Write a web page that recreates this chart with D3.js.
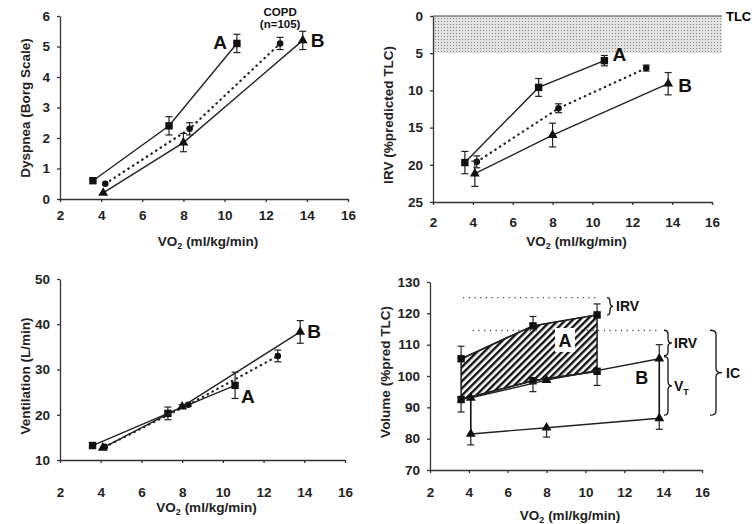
<!DOCTYPE html>
<html>
<head>
<meta charset="utf-8">
<script src="https://cdn.jsdelivr.net/npm/d3@7"></script>
<style>
  body { margin: 0; background: #fff; }
  svg { font-family: "Liberation Sans", Arial, sans-serif; }
  .tick text { font-weight: bold; font-size: 13.5px; fill: #222; }
  .tick line, .domain { stroke: #333; stroke-width: 1.3; }
</style>
</head>
<body>
<script>
// x values (VO2, ml/kg/min) for each series
const vo2A = [3.6, 7.3, 10.6];
const vo2Copd = [4.2, 8.3, 12.7];
const vo2B = [4.1, 8.0, 13.8];
const xTicks = [2, 4, 6, 8, 10, 12, 14, 16];

// dyspnea (Borg)
const dysA = [0.6, 2.4, 5.1], dysAErr = [0, 0.3, 0.3];
const dysCopd = [0.5, 2.3, 5.1], dysCopdErr = [0, 0.2, 0.2];
const dysB = [0.2, 1.85, 5.2], dysBErr = [0, 0.3, 0.3];
const dysTicks = [0, 1, 2, 3, 4, 5, 6];

// IRV (% predicted TLC)
const irvA = [19.7, 9.6, 6.0], irvAErr = [1.5, 1.2, 0.7];
const irvCopd = [19.6, 12.4, 7.0], irvCopdErr = [0.8, 0.6, 0.4];
const irvB = [21.2, 16.0, 9.1], irvBErr = [1.7, 1.6, 1.5];
const irvTicks = [0, 5, 10, 15, 20, 25];
const tlcBand = [0, 5];

// ventilation (L/min)
const veA = [13.2, 20.3, 26.5], veAErr = [0, 1.4, 2.9];
const veCopd = [12.9, 22.2, 33.0], veCopdErr = [0, 0.3, 1.3];
const veB = [12.7, 21.8, 38.3], veBErr = [0, 0.4, 2.5];
const veTicks = [10, 20, 30, 40, 50];

// volumes (% pred TLC)
const eilvA = [105.5, 116, 119.5], eilvAErr = [4, 3, 3.5];
const eelvA = [92.5, 98.5, 101.5], eelvAErr = [4, 3.5, 4.5];
const eilvB = [93, 98.7, 105.5], eilvBErr = [0, 0, 4.5];
const eelvB = [81.5, 83.5, 86.5], eelvBErr = [3.5, 3, 3.5];
const volTicks = [70, 80, 90, 100, 110, 120, 130];
const refLevels = [125, 114.5];
const refFrom = [3.7, 4.2];
const refTo = [10.6, 13.7];

const svg = d3.select('body').append('svg')
    .attr('width', 756).attr('height', 524);

const defs = svg.append('defs');
const hatch = defs.append('pattern').attr('id', 'hatch')
    .attr('patternUnits', 'userSpaceOnUse').attr('width', 5).attr('height', 5)
    .attr('patternTransform', 'rotate(45)');
hatch.append('rect').attr('width', 5).attr('height', 5).attr('fill', '#fff');
hatch.append('rect').attr('x', 0).attr('y', 0).attr('width', 2.4).attr('height', 5)
    .attr('fill', '#111');

const stipple = defs.append('pattern').attr('id', 'stipple')
    .attr('patternUnits', 'userSpaceOnUse').attr('width', 3).attr('height', 3);
stipple.append('rect').attr('width', 3).attr('height', 3).attr('fill', '#e2e2e2');
stipple.append('rect').attr('width', 1).attr('height', 1).attr('fill', '#888');

function vo2Label(g, x, y) {
    const t = g.append('text').attr('x', x).attr('y', y)
        .attr('text-anchor', 'middle').style('font-weight', 'bold').style('font-size', '13.5px').style('fill', '#222');
    t.append('tspan').text('VO');
    t.append('tspan').text('2').style('font-size', '9px').attr('dy', 3);
    t.append('tspan').text(' (ml/kg/min)').attr('dy', -3);
}

function makePanel(cfg) {
    const x = d3.scaleLinear().domain([2, 16]).range(cfg.xr);
    const y = d3.scaleLinear().domain(cfg.yd).range(cfg.yr);
    const g = svg.append('g');
    const yBase = Math.max(cfg.yr[0], cfg.yr[1]);
    g.append('g').attr('transform', `translate(0,${yBase})`)
        .call(d3.axisBottom(x).tickValues(xTicks).tickFormat(d3.format('d'))
            .tickSizeInner(3).tickSizeOuter(0).tickPadding(cfg.xpad));
    g.append('g').attr('transform', `translate(${cfg.xr[0]},0)`)
        .call(d3.axisLeft(y).tickValues(cfg.yt).tickFormat(d3.format('d'))
            .tickSizeInner(3).tickSizeOuter(0).tickPadding(7));
    vo2Label(g, (cfg.xr[0] + cfg.xr[1]) / 2 + 4, cfg.titleY);
    g.append('text')
        .attr('transform', `translate(${cfg.ylx},${cfg.yly}) rotate(-90)`)
        .attr('text-anchor', 'middle').style('font-weight', 'bold').style('font-size', '13.5px')
        .style('fill', '#222').text(cfg.ytitle);
    return {x, y, g};
}

function drawSeries(p, xs, ys, errs, symbol, dotted, dir) {
    const pts = xs.map((v, i) => ({x: v, y: ys[i], e: errs[i]}));
    p.g.append('path').datum(pts)
        .attr('d', d3.line().x(d => p.x(d.x)).y(d => p.y(d.y)))
        .attr('fill', 'none').attr('stroke', '#222')
        .attr('stroke-width', dotted ? 2.2 : 1.4)
        .attr('stroke-dasharray', dotted ? '0.5,5' : null)
        .attr('stroke-linecap', 'round');
    const eb = p.g.append('g');
    pts.filter(d => d.e > 0).forEach(d => {
        const lo = dir === 'up' ? d.y : d.y - d.e;
        const hi = dir === 'down' ? d.y : d.y + d.e;
        const cx = p.x(d.x);
        eb.append('line').attr('x1', cx).attr('x2', cx).attr('y1', p.y(lo)).attr('y2', p.y(hi))
            .attr('stroke', '#222').attr('stroke-width', 1.2);
        [lo, hi].forEach(v => {
            if ((dir === 'up' && v === d.y) || (dir === 'down' && v === d.y)) return;
            eb.append('line').attr('x1', cx - 3.5).attr('x2', cx + 3.5).attr('y1', p.y(v)).attr('y2', p.y(v))
                .attr('stroke', '#222').attr('stroke-width', 1.2);
        });
    });
    p.g.append('g').selectAll('path').data(pts).join('path')
        .attr('transform', d => `translate(${p.x(d.x)},${p.y(d.y)})`)
        .attr('d', d3.symbol().type(symbol.type).size(symbol.size))
        .attr('fill', '#111');
}

const sq = {type: d3.symbolSquare, size: 55};
const ci = {type: d3.symbolCircle, size: 34};
const tr = {type: d3.symbolTriangle, size: 42};

function label(p, xv, yv, dx, dy, txt, anchor, size) {
    p.g.append('text').attr('x', p.x(xv) + dx).attr('y', p.y(yv) + dy)
        .attr('text-anchor', anchor || 'start')
        .style('font-weight', 'bold').style('font-size', (size || 19) + 'px').style('fill', '#111')
        .text(txt);
}

// ---- panel 1: dyspnea
const p1 = makePanel({xr: [60, 348], yd: [0, 6], yr: [199, 16], yt: dysTicks, xpad: 8,
    titleY: 246, ylx: 30, yly: 108, ytitle: 'Dyspnea (Borg Scale)'});
drawSeries(p1, vo2A, dysA, dysAErr, sq, false);
drawSeries(p1, vo2Copd, dysCopd, dysCopdErr, ci, true);
drawSeries(p1, vo2B, dysB, dysBErr, tr, false);
label(p1, vo2A[2], dysA[2], -10, 6, 'A', 'end');
label(p1, vo2B[2], dysB[2], 8, 7, 'B');
label(p1, vo2Copd[2], dysCopd[2], 0, -27, 'COPD', 'middle', 11.5);
label(p1, vo2Copd[2], dysCopd[2], 0, -15, '(n=105)', 'middle', 11.5);

// ---- panel 2: IRV
const p2 = makePanel({xr: [433, 712], yd: [0, 25], yr: [16, 202], yt: irvTicks, xpad: 12,
    titleY: 246, ylx: 393, yly: 115, ytitle: 'IRV (%predicted TLC)'});
p2.g.insert('rect', ':first-child')
    .attr('x', p2.x(2)).attr('y', p2.y(tlcBand[0]))
    .attr('width', p2.x(16.5) - p2.x(2)).attr('height', p2.y(tlcBand[1]) - p2.y(tlcBand[0]))
    .attr('fill', 'url(#stipple)');
p2.g.append('line').attr('x1', p2.x(2)).attr('x2', p2.x(16.5))
    .attr('y1', p2.y(0)).attr('y2', p2.y(0)).attr('stroke', '#444').attr('stroke-width', 1.2);
p2.g.append('text').attr('x', p2.x(16.5) + 4).attr('y', p2.y(0) + 5)
    .style('font-weight', 'bold').style('font-size', '13px').text('TLC');
drawSeries(p2, vo2A, irvA, irvAErr, sq, false);
drawSeries(p2, vo2Copd, irvCopd, irvCopdErr, ci, true);
drawSeries(p2, vo2B, irvB, irvBErr, tr, false);
label(p2, vo2A[2], irvA[2], 8, 0, 'A');
label(p2, vo2B[2], irvB[2], 10, 8, 'B');

// ---- panel 3: ventilation
const p3 = makePanel({xr: [60, 345], yd: [10, 50], yr: [460, 279], yt: veTicks, xpad: 24,
    titleY: 512, ylx: 30, yly: 376, ytitle: 'Ventilation (L/min)'});
drawSeries(p3, vo2A, veA, veAErr, sq, false);
drawSeries(p3, vo2Copd, veCopd, veCopdErr, ci, true);
drawSeries(p3, vo2B, veB, veBErr, tr, false);
label(p3, vo2A[2], veA[2], 6, 18, 'A');
label(p3, vo2B[2], veB[2], 7, 6, 'B');

// ---- panel 4: volumes
const p4 = makePanel({xr: [430, 702], yd: [70, 130], yr: [470, 282], yt: volTicks, xpad: 14,
    titleY: 520, ylx: 390, yly: 372, ytitle: 'Volume (%pred TLC)'});

// hatched area for A
const areaPts = vo2A.map((v, i) => [p4.x(v), p4.y(eilvA[i])])
    .concat(vo2A.map((v, i) => [p4.x(v), p4.y(eelvA[i])]).reverse());
p4.g.append('path').attr('d', 'M' + areaPts.join('L') + 'Z')
    .attr('fill', 'url(#hatch)').attr('stroke', '#111').attr('stroke-width', 1.4);

// reference dotted levels
refLevels.forEach((r, i) => {
    p4.g.append('line').attr('x1', p4.x(refFrom[i])).attr('x2', p4.x(refTo[i]))
        .attr('y1', p4.y(r)).attr('y2', p4.y(r))
        .attr('stroke', '#444').attr('stroke-width', 1.4).attr('stroke-dasharray', '1.2,4.5');
});

// B vertical bars at first and last point
[0, 2].forEach(i => {
    p4.g.append('line').attr('x1', p4.x(vo2B[i])).attr('x2', p4.x(vo2B[i]))
        .attr('y1', p4.y(eelvB[i])).attr('y2', p4.y(eilvB[i]))
        .attr('stroke', '#111').attr('stroke-width', 1.6);
});

drawSeries(p4, vo2A, eilvA, eilvAErr, sq, false, 'up');
drawSeries(p4, vo2A, eelvA, eelvAErr, sq, false, 'down');
drawSeries(p4, vo2B, eilvB, eilvBErr, tr, false, 'up');
drawSeries(p4, vo2B, eelvB, eelvBErr, tr, false, 'down');

// A / B labels
p4.g.append('rect').attr('x', p4.x(8.95) - 10).attr('y', p4.y(111.5) - 12)
    .attr('width', 20).attr('height', 24).attr('fill', '#fff');
label(p4, 8.95, 111.5, 0, 7, 'A', 'middle', 18);
label(p4, 12.9, 99.7, 0, 7, 'B', 'middle', 18);

// braces
function brace(x, y1, y2, w) {
    const ym = (y1 + y2) / 2, h = w / 2, q = Math.min(4, (y2 - y1) / 4);
    return `M${x},${y1} Q${x + h},${y1} ${x + h},${y1 + q} L${x + h},${ym - q} Q${x + h},${ym} ${x + w},${ym}` +
        ` Q${x + h},${ym} ${x + h},${ym + q} L${x + h},${y2 - q} Q${x + h},${y2} ${x},${y2}`;
}
const braces = [
    {x: 607, top: 125, bot: 119.5, w: 6, txt: 'IRV', tx: 616},
    {x: 664, top: 114.6, bot: 106.5, w: 8, txt: 'IRV', tx: 674},
    {x: 664, top: 106.2, bot: 87.5, w: 8, txt: 'V', tx: 674},
    {x: 710, top: 114.6, bot: 87.5, w: 12, txt: 'IC', tx: 726}
];
braces.forEach(b => {
    p4.g.append('path').attr('d', brace(b.x, p4.y(b.top), p4.y(b.bot), b.w))
        .attr('fill', 'none').attr('stroke', '#111').attr('stroke-width', 1.3);
    const t = p4.g.append('text').attr('x', b.tx).attr('y', (p4.y(b.top) + p4.y(b.bot)) / 2 + 5)
        .style('font-weight', 'bold').style('font-size', '14px').style('fill', '#111').text(b.txt);
    if (b.txt === 'V') t.append('tspan').text('T').style('font-size', '9px').attr('dy', 4);
});
</script>
</body>
</html>
